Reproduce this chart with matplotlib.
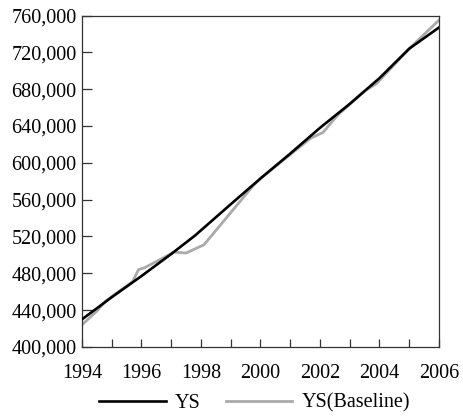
import matplotlib.pyplot as plt

plt.rcParams['font.family'] = ['Liberation Serif', 'DejaVu Serif']

ys_years = [1994, 1995, 1996, 1997, 1997.8, 1999, 2000, 2001, 2002, 2003, 2004, 2005, 2006]
ys_vals = [430000, 454000, 477000, 501000, 521000, 555000, 583000,
           610000, 638000, 664000, 692000, 724000, 747000]

base_years = [1994, 1994.5, 1994.8, 1995.7, 1995.9, 1996.1, 1997.1, 1997.5,
              1998.1, 1999.75, 2000, 2001, 2001.7, 2002.1, 2002.6, 2003.5,
              2003.9, 2005, 2006]
base_vals = [424000, 439000, 450000, 471000, 484000, 486000, 503000, 502000,
             511000, 575000, 583000, 609000, 627000, 633000, 652000, 678000,
             686000, 724000, 755000]

xticks = list(range(1994, 2007))
xlabels = [str(y) if y % 2 == 0 else '' for y in xticks]
yticks = list(range(400000, 760001, 40000))
ylabels = ['{:,}'.format(v) for v in yticks]

fig = plt.figure(figsize=(4.63, 4.20), dpi=100)
ax = fig.add_axes([0.1771, 0.174, 0.771, 0.789])

ax.plot(ys_years, ys_vals, color='black', lw=1.9, label='YS', zorder=3)
ax.plot(base_years, base_vals, color='#aaaaaa', lw=2.0, label='YS(Baseline)', zorder=2)

ax.set_xlim(1994, 2006)
ax.set_ylim(400000, 760000)
ax.set_xticks(xticks)
ax.set_xticklabels(xlabels)
ax.set_yticks(yticks)
ax.set_yticklabels(ylabels)
ax.tick_params(axis='both', direction='in', labelsize=14.5, color='#333333', width=0.9)
ax.tick_params(axis='x', length=6, pad=12)
ax.tick_params(axis='y', length=7, pad=4)
for s in ax.spines.values():
    s.set_color('#333333')
    s.set_linewidth(0.9)

fig.legend(loc='center', bbox_to_anchor=(0.55, 0.04), ncol=2, frameon=False,
           fontsize=14.5, handlelength=3.3, handletextpad=0.45, columnspacing=1.25)

fig.savefig('out.png', dpi=100)
